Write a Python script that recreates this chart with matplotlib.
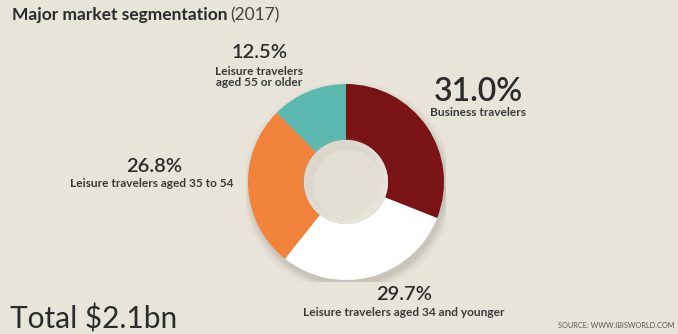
import matplotlib
matplotlib.use("Agg")
import matplotlib.pyplot as plt
from matplotlib.patches import Circle
import numpy as np

# market segments, clockwise from 12 o'clock
segments = ["Business travelers", "Leisure travelers aged 34 and younger",
            "Leisure travelers aged 35 to 54", "Leisure travelers\naged 55 or older"]
shares = [31.0, 29.7, 26.8, 12.5]
colors = ["#7a1315", "#ffffff", "#f0823a", "#5bb8b1"]

title = "Major market segmentation"
year = "(2017)"
total = "Total $2.1bn"
source = "SOURCE: WWW.IBISWORLD.COM"

BG = "#e8e4da"
INK = "#2b2b2b"
LBL = "#3a3a3a"
plt.rcParams['font.family'] = ['Lato', 'DejaVu Sans']

W, H = 678, 334
fig = plt.figure(figsize=(W / 100, H / 100), dpi=100)
fig.patch.set_facecolor(BG)


def fx(px):
    return px / W


def fy(py):
    return 1 - py / H


# donut axes centred at (346, 182) px
cx, cy, R = 346, 182, 100
ax = fig.add_axes([fx(cx - R), fy(cy + R), 2 * R / W, 2 * R / H])
ax.axis("off")

# soft drop shadow beneath the ring
for i, a in enumerate(np.linspace(0.05, 0.012, 8)):
    ax.add_patch(Circle((0.02, -0.05), 0.98 + i * 0.012, color="#6b645a",
                        alpha=a, lw=0, zorder=0))

ax.pie(shares, colors=colors, startangle=90, counterclock=False, radius=0.98,
       wedgeprops=dict(width=0.56, edgecolor="none"))
ax.set_xlim(-1, 1)
ax.set_ylim(-1, 1)
ax.set_aspect("equal")

# hole with a faint inner shadow toward the upper left
ax.add_patch(Circle((0, 0), 0.42, color=BG, lw=0, zorder=3))
for i, a in enumerate(np.linspace(0.07, 0.01, 6)):
    ax.add_patch(Circle((-0.03, 0.03), 0.42 - i * 0.015, color="#bdb6a9",
                        alpha=a, lw=0, zorder=3))
ax.add_patch(Circle((0.02, -0.03), 0.35, color=BG, alpha=0.6, lw=0, zorder=3))

# titles
fig.text(fx(12), fy(15), title, fontsize=12.5, fontweight="bold", color=INK, va="center")
fig.text(fx(230), fy(15), year, fontsize=12.5, color="#444444", va="center")
fig.text(fx(10), fy(319), total, fontsize=21.5, color=INK, va="center")
fig.text(fx(675), fy(325), source, fontsize=5.3, color="#555555", ha="right", va="center")

# segment labels
pct = [f"{s:.1f}%" for s in shares]
fig.text(fx(478), fy(92), pct[0], fontsize=23, fontweight="semibold", color=INK,
         ha="center", va="center")
fig.text(fx(478), fy(113), segments[0], fontsize=8.6, fontweight="bold", color=LBL,
         ha="center", va="center")

fig.text(fx(404), fy(295), pct[1], fontsize=14.5, fontweight="semibold", color=INK,
         ha="center", va="center")
fig.text(fx(404), fy(312), segments[1], fontsize=8.6, fontweight="bold", color=LBL,
         ha="center", va="center")

fig.text(fx(154), fy(167), pct[2], fontsize=14.5, fontweight="semibold", color=INK,
         ha="center", va="center")
fig.text(fx(152), fy(183), segments[2], fontsize=8.6, fontweight="bold", color=LBL,
         ha="center", va="center")

fig.text(fx(260), fy(53), pct[3], fontsize=14.5, fontweight="semibold", color=INK,
         ha="center", va="center")
fig.text(fx(259), fy(77), segments[3], fontsize=8.6, fontweight="bold", color=LBL,
         ha="center", va="center", linespacing=1.05)

fig.savefig("out.png", dpi=100, facecolor=BG)
